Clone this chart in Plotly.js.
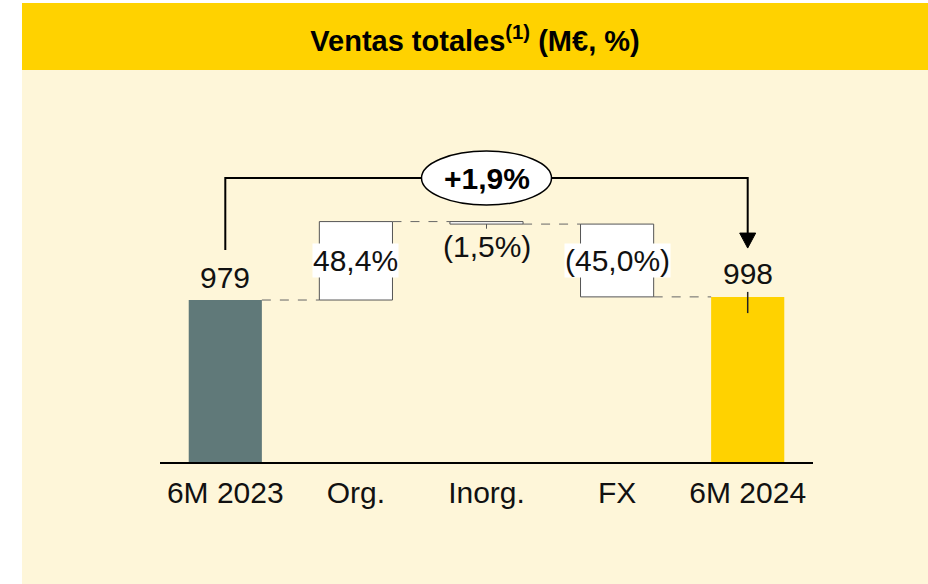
<!DOCTYPE html>
<html>
<head>
<meta charset="utf-8">
<script src="https://cdn.plot.ly/plotly-3.0.1.min.js"></script>
<style>html,body{margin:0;padding:0;background:#fff;}#chart{width:928px;height:584px;}</style>
</head>
<body>
<div id="chart"></div>
<script>
// ---- data ----
const categories = ['6M 2023', 'Org.', 'Inorg.', 'FX', '6M 2024'];
const steps = [979, 474, -15, -440, 998];           // first & last are totals
const measures = ['total', 'relative', 'relative', 'relative', 'total'];
const stepLabels = ['979', '48,4%', '(1,5%)', '(45,0%)', '998'];
const growthLabel = '+1,9%';
const titleText = 'Ventas totales<sup>(1)</sup> (M€, %)';

// ---- layout constants ----
const W = 928, H = 584;
const M = {l: 160, r: 115, t: 98, b: 122};
const yMax = 2200;
const plotW = W - M.l - M.r, plotH = H - M.t - M.b;
const px2py = p => (H - M.b - p) / plotH;   // pixel y -> paper y
const px2px = p => (p - M.l) / plotW;       // pixel x -> paper x
const FONT = 'Liberation Sans, Arial, sans-serif';
const cream = '#FEF6D9', yellow = '#FFD200', grey = '#607979';

// ---- waterfall geometry from data ----
const bases = [], tops = [];
let run = 0;
steps.forEach((v, i) => {
  if (measures[i] === 'total') { bases.push(0); run = v; tops.push(v); }
  else { bases.push(run); run += v; tops.push(run); }
});
const barColors = categories.map((c, i) => i === 0 ? grey : (i === categories.length - 1 ? yellow : '#FFFFFF'));
const lineColors = categories.map((c, i) => measures[i] === 'total' ? 'rgba(0,0,0,0)' : '#555555');
const barW = 0.56;

const traces = [{
  type: 'bar',
  x: categories.map((c, i) => i),
  y: steps,
  base: bases,
  width: barW,
  marker: {color: barColors, line: {color: lineColors, width: 1}},
  hoverinfo: 'skip'
}];

const shapes = [];
// backgrounds
shapes.push({type: 'rect', xref: 'paper', yref: 'paper', layer: 'below',
  x0: px2px(22), x1: px2px(W + 5), y0: px2py(H + 5), y1: px2py(70),
  fillcolor: cream, line: {width: 0}});
shapes.push({type: 'rect', xref: 'paper', yref: 'paper', layer: 'below',
  x0: px2px(22), x1: px2px(W + 5), y0: px2py(70), y1: px2py(3),
  fillcolor: yellow, line: {width: 0}});
// connectors
for (let i = 0; i < steps.length - 1; i++) {
  const level = tops[i];
  shapes.push({type: 'line', xref: 'x', yref: 'y',
    x0: i + barW / 2, x1: i + 1 - barW / 2, y0: level, y1: level,
    line: {color: '#666666', width: 1, dash: 'dash'}});
}
// small tick under the thin Inorg box
shapes.push({type: 'line', xref: 'x', yref: 'y', x0: 2, x1: 2,
  y0: tops[2], y1: tops[2] - 28, line: {color: '#555555', width: 1}});
// tick inside final bar
shapes.push({type: 'line', xref: 'x', yref: 'y', x0: 4, x1: 4,
  y0: tops[4] + 30, y1: tops[4] - 98, line: {color: '#222222', width: 1.5}});

// bracket
const brTop = 1716, brStart = 1281, arrowTip = 1293;
shapes.push({type: 'path', xref: 'x', yref: 'y',
  path: `M0,${brStart} L0,${brTop} L4,${brTop} L4,${arrowTip + 80}`,
  line: {color: '#000000', width: 2}});
shapes.push({type: 'path', xref: 'x', yref: 'y', xsizemode: 'pixel', ysizemode: 'pixel',
  xanchor: 4, yanchor: arrowTip, path: 'M-8,15 L8,15 L0,0 Z',
  fillcolor: '#000000', line: {color: '#000000', width: 1}});
// ellipse
shapes.push({type: 'circle', xref: 'x', yref: 'y', xsizemode: 'pixel', ysizemode: 'pixel',
  xanchor: 2, yanchor: brTop, x0: -65, x1: 65, y0: -27, y1: 27,
  fillcolor: '#FFFFFF', line: {color: '#000000', width: 1.5}});

const annotations = [];
stepLabels.forEach((t, i) => {
  if (measures[i] === 'total') {
    annotations.push({x: i, y: tops[i], xref: 'x', yref: 'y', text: t, showarrow: false,
      yanchor: 'middle', yshift: 23, font: {family: FONT, size: 30, color: '#111111'}});
  } else if (Math.abs(steps[i]) > 100) {
    annotations.push({x: i, y: (bases[i] + tops[i]) / 2, xref: 'x', yref: 'y', text: t, showarrow: false,
      yanchor: 'middle', bgcolor: '#FFFFFF', borderpad: 0,
      font: {family: FONT, size: 30, color: '#111111'}});
  } else {
    annotations.push({x: i, y: Math.min(bases[i], tops[i]), xref: 'x', yref: 'y', text: t, showarrow: false,
      yanchor: 'middle', yshift: -22, font: {family: FONT, size: 30, color: '#111111'}});
  }
});
annotations.push({x: 2, y: brTop, xref: 'x', yref: 'y', text: '<b>' + growthLabel + '</b>', showarrow: false,
  yanchor: 'middle', font: {family: FONT, size: 30, color: '#000000'}});

const layout = {
  width: W, height: H,
  margin: M,
  paper_bgcolor: '#FFFFFF',
  plot_bgcolor: 'rgba(0,0,0,0)',
  showlegend: false,
  title: {text: '<b>' + titleText + '</b>', x: 475 / W, xanchor: 'center', xref: 'container',
    y: 1 - 41 / H, yanchor: 'middle', yref: 'container',
    font: {family: FONT, size: 29, color: '#000000'}},
  xaxis: {
    range: [-0.5, categories.length - 0.5],
    tickmode: 'array', tickvals: categories.map((c, i) => i), ticktext: categories,
    showline: true, linecolor: '#000000', linewidth: 2,
    showgrid: false, zeroline: false, ticks: '', fixedrange: true,
    ticklabelstandoff: 3,
    tickfont: {family: FONT, size: 30, color: '#111111'}
  },
  yaxis: {range: [0, yMax], visible: false, fixedrange: true},
  shapes: shapes,
  annotations: annotations
};

Plotly.newPlot('chart', traces, layout, {displayModeBar: false, staticPlot: true});
</script>
</body>
</html>
